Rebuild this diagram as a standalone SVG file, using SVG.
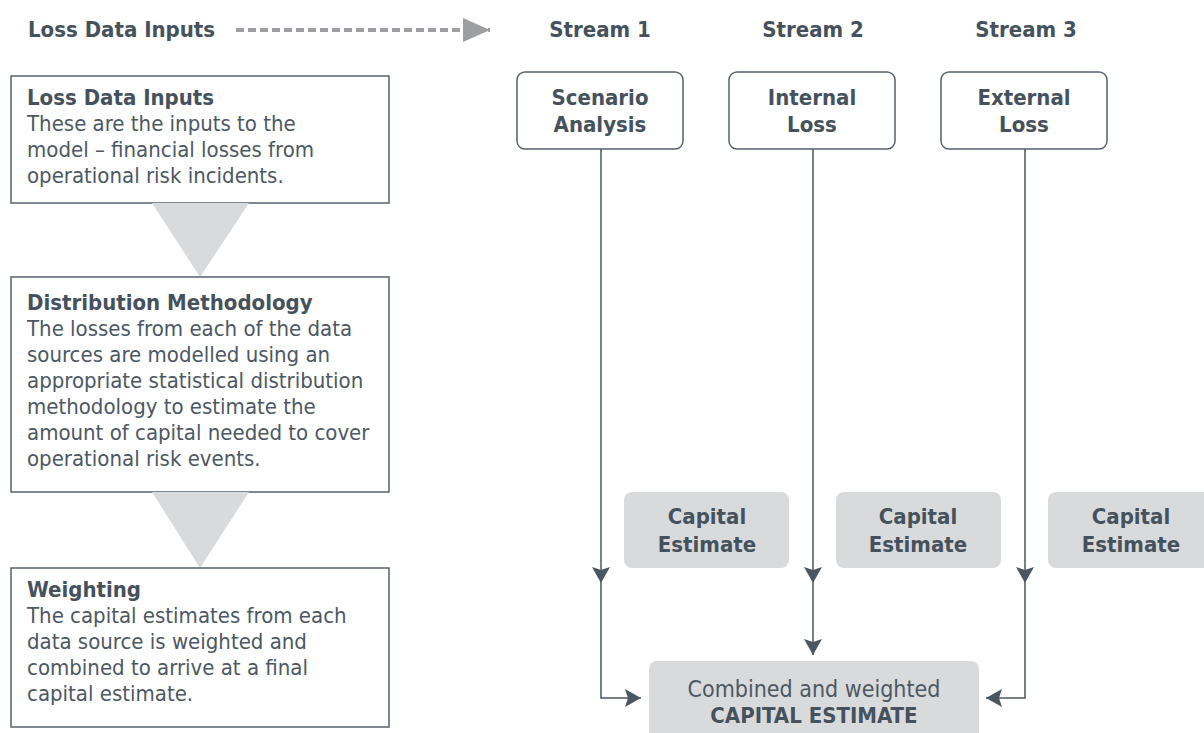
<svg xmlns="http://www.w3.org/2000/svg" width="1204" height="733" viewBox="0 0 1204 733">
  <defs>
    <style>
      .hd { font-family: "DejaVu Sans Condensed", "DejaVu Sans", Verdana, sans-serif; font-stretch: condensed; font-weight: bold; font-size: 22px; fill: #45525d; }
      .bd { font-family: "DejaVu Sans Condensed", "DejaVu Sans", Verdana, sans-serif; font-stretch: condensed; font-size: 22px; fill: #4c5863; }
      .big { font-size: 23px; }
      .ctr { text-anchor: middle; }
      .stage { fill: #ffffff; stroke: #56626c; stroke-width: 1.5; }
      .src { fill: #ffffff; stroke: #56626c; stroke-width: 1.5; }
      .est { fill: #d9dadc; }
      .funnel { fill: #d9dadc; }
      .wire { fill: none; stroke: #4a5661; stroke-width: 1.5; }
    </style>
    <marker id="tip" viewBox="0 0 16 18" refX="16" refY="9" markerWidth="16" markerHeight="18" markerUnits="userSpaceOnUse" orient="auto">
      <path d="M0,0 L16,9 L0,18 L3,9 Z" fill="#4a5661"/>
    </marker>
    <marker id="gtip" viewBox="0 0 27 24" refX="27" refY="12" markerWidth="27" markerHeight="24" markerUnits="userSpaceOnUse" orient="auto">
      <path d="M0,0 L27,12 L0,24 Z" fill="#9c9ea2"/>
    </marker>
  </defs>

  <!-- top legend row -->
  <g id="legend">
    <text class="hd" x="28" y="37">Loss Data Inputs</text>
    <line x1="236" y1="30" x2="490" y2="30" stroke="#9c9ea2" stroke-width="4" stroke-dasharray="8,4" marker-end="url(#gtip)"/>
    <text class="hd ctr" x="600" y="37">Stream 1</text>
    <text class="hd ctr" x="813" y="37">Stream 2</text>
    <text class="hd ctr" x="1026" y="37">Stream 3</text>
  </g>

  <!-- process stages on the left -->
  <g id="stage-inputs">
    <rect class="stage" x="11" y="76" width="378" height="127"/>
    <text class="hd" x="27" y="105">Loss Data Inputs</text>
    <text class="bd" x="27" y="131">These are the inputs to the</text>
    <text class="bd" x="27" y="157">model – financial losses from</text>
    <text class="bd" x="27" y="183">operational risk incidents.</text>
  </g>
  <polygon class="funnel" points="152,203 249,203 200,277"/>

  <g id="stage-distribution">
    <rect class="stage" x="11" y="277" width="378" height="215"/>
    <text class="hd" x="27" y="310">Distribution Methodology</text>
    <text class="bd" x="27" y="336">The losses from each of the data</text>
    <text class="bd" x="27" y="362">sources are modelled using an</text>
    <text class="bd" x="27" y="388">appropriate statistical distribution</text>
    <text class="bd" x="27" y="414">methodology to estimate the</text>
    <text class="bd" x="27" y="440">amount of capital needed to cover</text>
    <text class="bd" x="27" y="466">operational risk events.</text>
  </g>
  <polygon class="funnel" points="152,492 249,492 200,568"/>

  <g id="stage-weighting">
    <rect class="stage" x="11" y="568" width="378" height="159"/>
    <text class="hd" x="27" y="597">Weighting</text>
    <text class="bd" x="27" y="623">The capital estimates from each</text>
    <text class="bd" x="27" y="649">data source is weighted and</text>
    <text class="bd" x="27" y="675">combined to arrive at a final</text>
    <text class="bd" x="27" y="701">capital estimate.</text>
  </g>

  <!-- data sources -->
  <g id="scenario-analysis">
    <rect class="src" x="517" y="72" width="166" height="77" rx="8"/>
    <text class="hd ctr" x="600" y="105">Scenario</text>
    <text class="hd ctr" x="600" y="132">Analysis</text>
  </g>
  <g id="internal-loss">
    <rect class="src" x="729" y="72" width="166" height="77" rx="8"/>
    <text class="hd ctr" x="812" y="105">Internal</text>
    <text class="hd ctr" x="812" y="132">Loss</text>
  </g>
  <g id="external-loss">
    <rect class="src" x="941" y="72" width="166" height="77" rx="8"/>
    <text class="hd ctr" x="1024" y="105">External</text>
    <text class="hd ctr" x="1024" y="132">Loss</text>
  </g>

  <!-- per-stream capital estimates -->
  <g id="capital-1">
    <rect class="est" x="624" y="492" width="165" height="76" rx="8"/>
    <text class="hd ctr" x="707" y="524">Capital</text>
    <text class="hd ctr" x="707" y="552">Estimate</text>
  </g>
  <g id="capital-2">
    <rect class="est" x="836" y="492" width="165" height="76" rx="8"/>
    <text class="hd ctr" x="918" y="524">Capital</text>
    <text class="hd ctr" x="918" y="552">Estimate</text>
  </g>
  <g id="capital-3">
    <rect class="est" x="1048" y="492" width="165" height="76" rx="8"/>
    <text class="hd ctr" x="1131" y="524">Capital</text>
    <text class="hd ctr" x="1131" y="552">Estimate</text>
  </g>

  <!-- combined result -->
  <g id="combined">
    <rect class="est" x="649" y="661" width="330" height="90" rx="8"/>
    <text class="bd big ctr" x="814" y="697">Combined and weighted</text>
    <text class="hd ctr" x="814" y="723">CAPITAL ESTIMATE</text>
  </g>

  <!-- connectors -->
  <g id="connectors">
    <line class="wire" x1="601" y1="149" x2="601" y2="583" marker-end="url(#tip)"/>
    <polyline class="wire" points="601,583 601,698 641,698" marker-end="url(#tip)"/>
    <line class="wire" x1="813" y1="149" x2="813" y2="583" marker-end="url(#tip)"/>
    <line class="wire" x1="813" y1="583" x2="813" y2="655" marker-end="url(#tip)"/>
    <line class="wire" x1="1025" y1="149" x2="1025" y2="583" marker-end="url(#tip)"/>
    <polyline class="wire" points="1025,583 1025,698 986,698" marker-end="url(#tip)"/>
  </g>
</svg>
